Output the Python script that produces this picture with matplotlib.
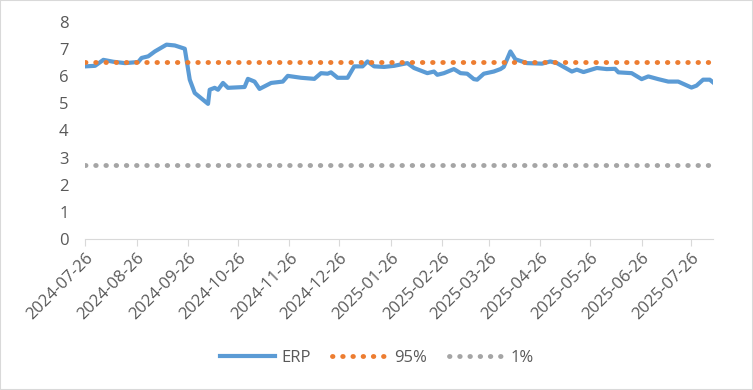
import numpy as np
import pandas as pd
import matplotlib
matplotlib.use('Agg')
from matplotlib import pyplot as plt
import matplotlib.dates as mdates
from matplotlib.patches import Rectangle

plt.rcParams['font.family'] = ['Open Sans', 'DejaVu Sans']

# ERP series
dates = ['2024-07-26', '2024-08-01', '2024-08-06', '2024-08-12', '2024-08-19', '2024-08-27',
         '2024-08-29', '2024-09-02', '2024-09-06', '2024-09-13', '2024-09-18', '2024-09-24',
         '2024-09-27', '2024-09-30', '2024-10-08', '2024-10-09', '2024-10-12', '2024-10-14',
         '2024-10-17', '2024-10-20', '2024-10-30', '2024-11-01', '2024-11-05', '2024-11-08',
         '2024-11-15', '2024-11-22', '2024-11-25', '2024-12-03', '2024-12-11', '2024-12-15',
         '2024-12-19', '2024-12-21', '2024-12-25', '2024-12-31', '2025-01-04', '2025-01-09',
         '2025-01-12', '2025-01-16', '2025-01-22', '2025-01-28', '2025-02-05', '2025-02-09',
         '2025-02-17', '2025-02-21', '2025-02-23', '2025-02-27', '2025-03-05', '2025-03-09',
         '2025-03-13', '2025-03-17', '2025-03-19', '2025-03-23', '2025-03-29', '2025-04-02',
         '2025-04-04', '2025-04-08', '2025-04-11', '2025-04-18', '2025-04-27', '2025-05-02',
         '2025-05-06', '2025-05-15', '2025-05-18', '2025-05-22', '2025-05-30', '2025-06-05',
         '2025-06-10', '2025-06-12', '2025-06-20', '2025-06-26', '2025-06-30', '2025-07-06',
         '2025-07-12', '2025-07-18', '2025-07-26', '2025-07-29', '2025-08-02', '2025-08-06',
         '2025-08-08']
erp = [6.36, 6.38, 6.60, 6.53, 6.48, 6.52,
       6.67, 6.73, 6.91, 7.16, 7.13, 7.01,
       5.87, 5.38, 4.98, 5.50, 5.57, 5.50,
       5.75, 5.57, 5.60, 5.90, 5.80, 5.53,
       5.75, 5.80, 6.01, 5.94, 5.90, 6.11,
       6.09, 6.14, 5.94, 5.94, 6.36, 6.36,
       6.54, 6.36, 6.34, 6.38, 6.48, 6.30,
       6.11, 6.17, 6.05, 6.11, 6.26, 6.11,
       6.09, 5.89, 5.87, 6.09, 6.17, 6.26,
       6.34, 6.91, 6.62, 6.48, 6.46, 6.54,
       6.48, 6.17, 6.24, 6.15, 6.30, 6.26,
       6.27, 6.14, 6.11, 5.89, 5.99, 5.89,
       5.80, 5.80, 5.58, 5.65, 5.87, 5.87,
       5.77]
p95 = 6.53
p1 = 2.73
tick_dates = ['2024-07-26', '2024-08-26', '2024-09-26', '2024-10-26', '2024-11-26',
              '2024-12-26', '2025-01-26', '2025-02-26', '2025-03-26', '2025-04-26',
              '2025-05-26', '2025-06-26', '2025-07-26']

x = pd.to_datetime(dates)

fig = plt.figure(figsize=(7.53, 3.90), dpi=100)
ax = fig.add_axes([0.113, 0.387, 0.834, 0.557])

ax.plot(x, erp, color='#5B9BD5', lw=3.0, label='ERP', solid_joinstyle='round')
ax.plot(x, [p95] * len(x), color='#ED7D31', lw=3.5, ls=(0, (0.1, 2.0)),
        dash_capstyle='round', label='95%')
ax.plot(x, [p1] * len(x), color='#A5A5A5', lw=3.5, ls=(0, (0.1, 2.0)),
        dash_capstyle='round', label='1%')

ax.set_ylim(0, 8)
ax.set_yticks(range(0, 9))
ax.set_xlim(x[0], x[-1])
ax.set_xticks(pd.to_datetime(tick_dates))
ax.xaxis.set_major_formatter(mdates.DateFormatter('%Y-%m-%d'))
for lab in ax.get_xticklabels():
    lab.set_rotation(45)
    lab.set_ha('right')
    lab.set_rotation_mode('anchor')

for s in ['top', 'right', 'left']:
    ax.spines[s].set_visible(False)
ax.spines['bottom'].set_color('#D9D9D9')
ax.tick_params(axis='y', length=0, labelsize=12, labelcolor='#595959', pad=12)
ax.tick_params(axis='x', length=5, color='#D9D9D9', labelsize=12,
               labelcolor='#595959', pad=3)

fig.legend(loc='center', bbox_to_anchor=(0.5, 0.083), ncol=3, frameon=False,
           fontsize=12, handlelength=3.3, handletextpad=0.4, columnspacing=1.3,
           labelcolor='#595959')

fig.patches.append(Rectangle((0, 0), 1, 1, transform=fig.transFigure, fill=False,
                             edgecolor='#D9D9D9', lw=1.5))

fig.savefig('out.png', dpi=100)
